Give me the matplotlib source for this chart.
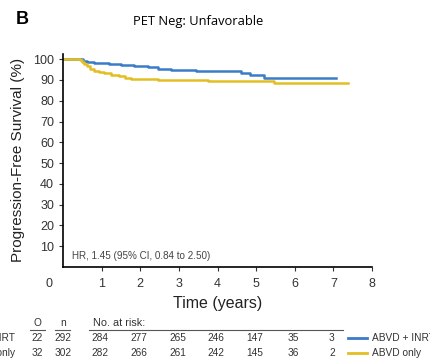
import matplotlib
matplotlib.use("Agg")
import matplotlib.pyplot as plt

plt.rcParams['font.family'] = ['Liberation Sans', 'DejaVu Sans']

# Kaplan-Meier step data (years, % progression-free)
inrt_t = [0, 0.52, 0.62, 0.8, 1.2, 1.5, 1.85, 2.2, 2.45, 2.8, 3.45, 4.6, 4.85, 5.2, 7.06]
inrt_s = [100, 99.3, 98.6, 98.2, 97.6, 97.2, 96.7, 96.2, 95.5, 95.0, 94.3, 93.4, 92.5, 91.0, 91.0]
only_t = [0, 0.45, 0.5, 0.55, 0.62, 0.7, 0.8, 0.92, 1.05, 1.25, 1.45, 1.6, 1.75, 2.45, 3.75, 5.45, 7.37]
only_s = [100, 99.5, 98.5, 97.5, 96.5, 95.5, 94.5, 93.8, 93.2, 92.6, 91.8, 91.0, 90.4, 90.0, 89.4, 88.6, 88.6]

groups = ['ABVD + INRT', 'ABVD only']
events = [22, 32]
n_pat = [292, 302]
risk_years = [1, 2, 3, 4, 5, 6, 7]
at_risk = [[284, 277, 265, 246, 147, 35, 3],
           [282, 266, 261, 242, 145, 36, 2]]
colors = ['#3b7cc8', '#e3be22']

fig = plt.figure(figsize=(4.3, 3.6), dpi=100)
ax = fig.add_axes([63/430, 1-267/360, (372-63)/430, (267-54)/360])

ax.step(inrt_t, inrt_s, where='post', color=colors[0], lw=1.8)
ax.step(only_t, only_s, where='post', color=colors[1], lw=1.8)

ax.set_xlim(0, 8)
ax.set_ylim(0, 102.5)
ax.set_xticks(range(1, 9))
ax.set_yticks(range(10, 101, 10))
ax.tick_params(labelsize=9, colors='#333333', length=3, width=0.8)
for lab in ax.get_xticklabels() + ax.get_yticklabels():
    lab.set_color('#333333')
ax.tick_params(axis='x', pad=5)
ax.spines['top'].set_visible(False)
ax.spines['right'].set_visible(False)
ax.spines['left'].set_linewidth(1.2)
ax.spines['bottom'].set_linewidth(1.2)
ax.text(-0.35, -5.5, '0', transform=ax.transData, ha='center', va='top',
        fontsize=9, color='#333333', clip_on=False)

ax.set_xlabel('Time (years)', fontsize=11.5, color='#222222', labelpad=4)
fig.text(18/430, 1-160/360, 'Progression-Free Survival (%)', rotation=90,
         ha='center', va='center', fontsize=11, color='#222222')

ax.text(0.24, 5.2, 'HR, 1.45 (95% CI, 0.84 to 2.50)', fontsize=7.1, color='#444444',
        va='center')

fig.text(16/430, 1-20/360, 'B', fontsize=13, fontweight='bold', va='center')
fig.text(198/430, 1-21/360, 'PET Neg: Unfavorable', fontsize=9.3, va='center',
         ha='center', family=['Open Sans', 'DejaVu Sans'])

# number at risk table
def fx(px):
    return px / 430.0

def fy(py):
    return 1 - py / 360.0

fs = 7.3
fig.text(fx(37), fy(323), 'O', fontsize=fs, ha='center', va='center', color='#333333')
fig.text(fx(63), fy(323), 'n', fontsize=fs, ha='center', va='center', color='#333333')
fig.text(fx(93), fy(323), 'No. at risk:', fontsize=7.8, ha='left', va='center', color='#333333')
fig.add_artist(plt.Line2D([fx(30), fx(45)], [fy(330), fy(330)], color='#555555', lw=0.8))
fig.add_artist(plt.Line2D([fx(55), fx(70)], [fy(330), fy(330)], color='#555555', lw=0.8))
fig.add_artist(plt.Line2D([fx(89), fx(343)], [fy(330), fy(330)], color='#555555', lw=0.8))

rows_y = [338, 353]
for i in range(len(groups)):
    y = fy(rows_y[i])
    fig.text(fx(15), y, groups[i], fontsize=fs, ha='right', va='center', color='#333333')
    fig.text(fx(37), y, str(events[i]), fontsize=fs, ha='center', va='center', color='#333333')
    fig.text(fx(63), y, str(n_pat[i]), fontsize=fs, ha='center', va='center', color='#333333')
    for yr, val in zip(risk_years, at_risk[i]):
        xd = ax.transData.transform((yr, 0))[0] / fig.bbox.width
        fig.text(xd - 1.5/430, y, str(val), fontsize=fs, ha='center', va='center', color='#333333')
    fig.add_artist(plt.Line2D([fx(348), fx(367)], [y, y], color=colors[i], lw=2))
    fig.text(fx(372), y, groups[i], fontsize=fs, ha='left', va='center', color='#333333')

fig.savefig('out.png', dpi=100)
